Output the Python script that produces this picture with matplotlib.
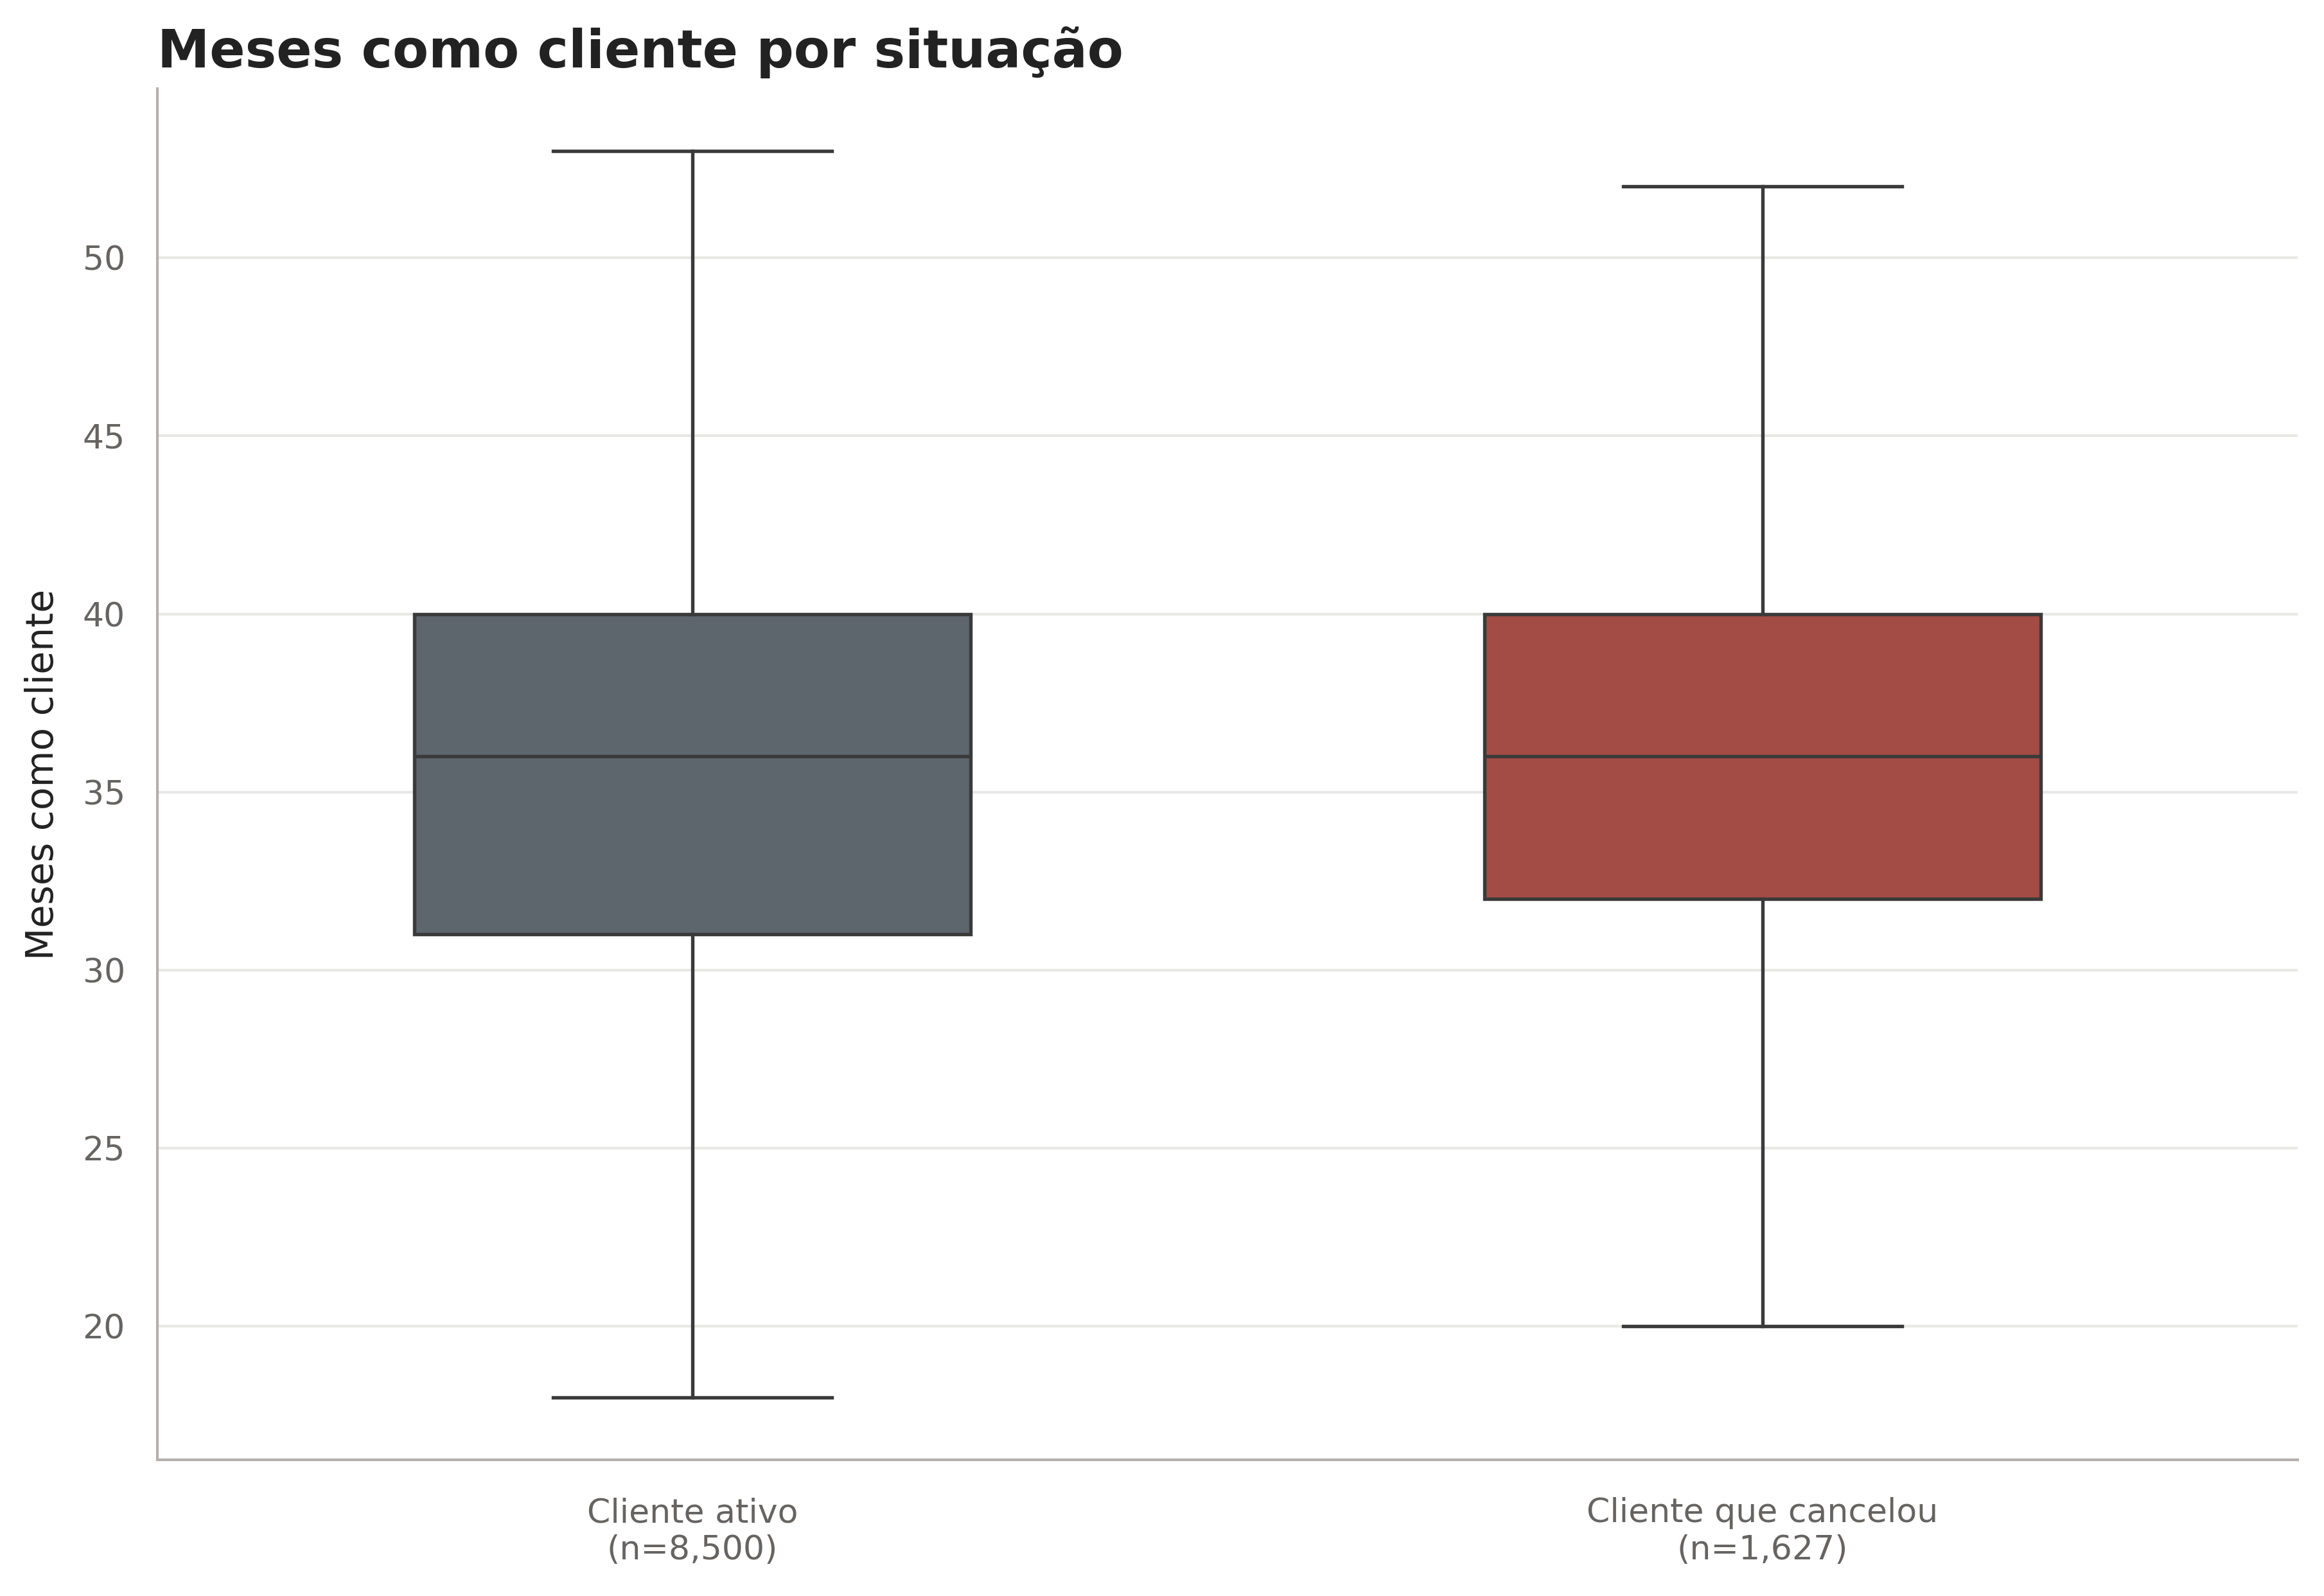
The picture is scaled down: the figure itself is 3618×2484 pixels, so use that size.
import matplotlib.pyplot as plt

# dados
categorias = ["Cliente ativo", "Cliente que cancelou"]
n_clientes = [8500, 1627]
whis_min = [18, 20]
q1 = [31, 32]
mediana = [36, 36]
q3 = [40, 40]
whis_max = [53, 52]
cores = ["#5D666C", "#A34C45"]

plt.rcParams['font.family'] = ['DejaVu Sans']

fig = plt.figure(figsize=(12.06, 8.28), dpi=300)
ax = fig.add_axes([245 / 3618, 1 - 2272 / 2484, (3577 - 245) / 3618, (2272 - 138) / 2484])

stats = []
for i, cat in enumerate(categorias):
    stats.append(dict(label=cat, whislo=whis_min[i], q1=q1[i], med=mediana[i],
                      q3=q3[i], whishi=whis_max[i], fliers=[]))

line_col = "#3A3A3A"
lw = 1.3
bp = ax.bxp(stats, positions=range(len(categorias)), widths=0.52, patch_artist=True,
            showfliers=False, capwidths=0.26,
            boxprops=dict(edgecolor=line_col, linewidth=lw),
            medianprops=dict(color=line_col, linewidth=lw),
            whiskerprops=dict(color=line_col, linewidth=lw),
            capprops=dict(color=line_col, linewidth=lw))
for patch, c in zip(bp['boxes'], cores):
    patch.set_facecolor(c)

ax.set_xlim(-0.5, len(categorias) - 0.5)
ax.set_ylim(16.25, 54.75)
ax.set_yticks([20, 25, 30, 35, 40, 45, 50])
ax.set_xticks(range(len(categorias)))
ax.set_xticklabels([f"{c}\n(n={n:,})" for c, n in zip(categorias, n_clientes)])

ax.grid(axis='y', color='#E8E8E6', linewidth=1.0)
ax.set_axisbelow(True)
for s in ['top', 'right']:
    ax.spines[s].set_visible(False)
for s in ['left', 'bottom']:
    ax.spines[s].set_color('#B5B0AC')
    ax.spines[s].set_linewidth(1.0)

ax.tick_params(axis='both', length=0, labelsize=12.5, labelcolor='#666462')
ax.tick_params(axis='x', pad=14)
ax.tick_params(axis='y', pad=12)

ax.set_ylabel("Meses como cliente", fontsize=14, color='#222222', labelpad=8)
ax.set_title("Meses como cliente por situação", loc='left', fontsize=19.6,
             fontweight='bold', color='#222222', pad=8)

fig.savefig("out.png", dpi=300)
